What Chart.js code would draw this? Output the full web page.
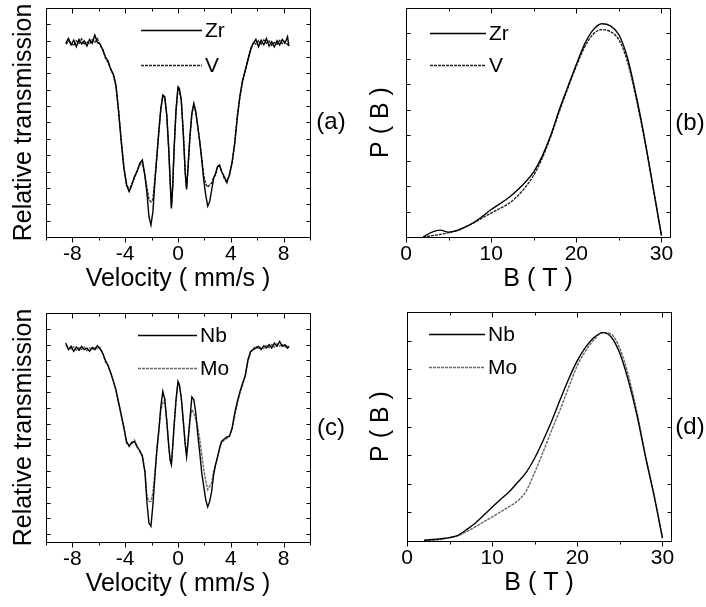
<!DOCTYPE html>
<html><head><meta charset="utf-8">
<script src="https://cdn.jsdelivr.net/npm/chart.js@4.4.1/dist/chart.umd.min.js"></script>
<style>
html,body{margin:0;padding:0;background:#fff;}
#wrap{position:relative;width:706px;height:607px;overflow:hidden;}
canvas{position:absolute;}
</style></head><body>
<div id="wrap">
<canvas id="ca" width="353" height="300" style="left:0;top:0"></canvas>
<canvas id="cb" width="353" height="300" style="left:353px;top:0"></canvas>
<canvas id="cc" width="353" height="307" style="left:0;top:300px"></canvas>
<canvas id="cd" width="353" height="307" style="left:353px;top:300px"></canvas>
</div>
<script>
// ---------- data ----------
const velocity = [-8.5,-8.3,-8.1,-7.9,-7.7,-7.5,-7.3,-7.1,-6.9,-6.7,-6.5,-6.3,-6.1,-5.9,-5.7,-5.5,-5.3,-5.1,-4.9,-4.7,-4.5,-4.3,-4.1,-3.9,-3.7,-3.5,-3.3,-3.1,-2.9,-2.7,-2.5,-2.35,-2.2,-2.05,-1.9,-1.75,-1.6,-1.45,-1.3,-1.15,-1.0,-0.85,-0.7,-0.6,-0.5,-0.4,-0.3,-0.15,0.0,0.1,0.25,0.4,0.55,0.65,0.75,0.9,1.05,1.2,1.35,1.5,1.65,1.8,1.95,2.1,2.25,2.4,2.55,2.7,2.85,3.0,3.15,3.3,3.5,3.7,3.9,4.1,4.3,4.5,4.7,4.9,5.1,5.3,5.5,5.7,5.9,6.1,6.3,6.5,6.7,6.9,7.1,7.3,7.5,7.7,7.9,8.1,8.3,8.4];

const zrSpectrum = [.9784,.9814,.9774,.9804,.9763,.9808,.9780,.9800,.9767,.9808,.9784,.9835,.9788,.9780,.9743,.9702,.9676,.9625,.9596,.9529,.9366,.9183,.9020,.8918,.8877,.8918,.8969,.9000,.9050,.9071,.8969,.8867,.8724,.8673,.8755,.8938,.9091,.9244,.9386,.9468,.9458,.9346,.9132,.8948,.8775,.8908,.9132,.9376,.9519,.9509,.9437,.9234,.8989,.8891,.9010,.9213,.9356,.9417,.9366,.9274,.9183,.9071,.8948,.8857,.8789,.8816,.8887,.8959,.8989,.9030,.9040,.9000,.8969,.8938,.8979,.9060,.9173,.9336,.9468,.9560,.9621,.9682,.9743,.9784,.9808,.9763,.9804,.9774,.9814,.9767,.9794,.9763,.9800,.9774,.9808,.9784,.9824,.9767];

const vSpectrum = [.9778,.9798,.9790,.9770,.9800,.9784,.9810,.9776,.9795,.9780,.9806,.9790,.9812,.9772,.9748,.9695,.9668,.9630,.9590,.9520,.9375,.9190,.9030,.8925,.8885,.8925,.8960,.9005,.9040,.9060,.8975,.8900,.8830,.8815,.8830,.8955,.9100,.9250,.9380,.9460,.9450,.9340,.9140,.8955,.8785,.8915,.9125,.9370,.9510,.9500,.9430,.9240,.8995,.8900,.9015,.9205,.9350,.9410,.9360,.9270,.9180,.9080,.8975,.8925,.8905,.8920,.8930,.8965,.8980,.9035,.9030,.9005,.8960,.8930,.8985,.9050,.9180,.9345,.9460,.9555,.9615,.9690,.9750,.9790,.9780,.9800,.9775,.9805,.9785,.9798,.9772,.9790,.9778,.9802,.9782,.9796,.9776,.9790];

const nbSpectrum = [.9810,.9768,.9789,.9757,.9785,.9764,.9789,.9768,.9778,.9757,.9782,.9768,.9793,.9772,.9743,.9700,.9666,.9624,.9567,.9515,.9430,.9356,.9272,.9187,.9156,.9181,.9187,.9152,.9130,.9092,.8987,.8797,.8670,.8649,.8786,.8966,.9135,.9261,.9409,.9504,.9451,.9314,.9156,.9071,.9040,.9156,.9282,.9451,.9567,.9546,.9462,.9314,.9166,.9092,.9177,.9325,.9468,.9451,.9367,.9230,.9114,.8987,.8902,.8818,.8772,.8807,.8871,.8976,.9040,.9092,.9145,.9187,.9202,.9215,.9219,.9272,.9367,.9441,.9504,.9557,.9603,.9704,.9757,.9768,.9778,.9789,.9768,.9793,.9778,.9799,.9778,.9810,.9789,.9820,.9789,.9799,.9778,.9789];

const moSpectrum = [.9795,.9780,.9772,.9786,.9764,.9780,.9770,.9784,.9762,.9779,.9768,.9786,.9774,.9781,.9750,.9690,.9672,.9615,.9575,.9505,.9440,.9345,.9280,.9175,.9165,.9170,.9195,.9160,.9120,.9100,.9000,.8839,.8807,.8807,.8860,.8987,.9130,.9250,.9388,.9430,.9451,.9320,.9160,.9075,.9045,.9150,.9280,.9445,.9560,.9550,.9465,.9320,.9170,.9098,.9180,.9310,.9388,.9367,.9325,.9272,.9198,.9103,.9008,.8934,.8881,.8902,.8924,.8997,.9045,.9085,.9140,.9180,.9195,.9205,.9225,.9265,.9350,.9430,.9495,.9545,.9610,.9695,.9750,.9775,.9790,.9772,.9785,.9776,.9795,.9780,.9800,.9785,.9805,.9790,.9800,.9782,.9796,.9780];

const fieldB = [2,3,4,5,6,7,8,9,10,11,12,13,14,15,16,17,18,19,20,21,22,23,24,25,26,27,28,29,30];
const zrPB = [0.0000,0.0018,0.0027,0.0019,0.0026,0.0040,0.0058,0.0082,0.0108,0.0130,0.0153,0.0182,0.0215,0.0256,0.0318,0.0400,0.0500,0.0590,0.0678,0.0760,0.0815,0.0838,0.0830,0.0795,0.0705,0.0560,0.0390,0.0198,0.0005];
const vPB  = [0.0000,0.0005,0.0010,0.0017,0.0025,0.0040,0.0056,0.0076,0.0094,0.0112,0.0130,0.0158,0.0195,0.0243,0.0310,0.0395,0.0493,0.0585,0.0672,0.0748,0.0798,0.0815,0.0807,0.0775,0.0690,0.0550,0.0385,0.0198,0.0005];
const nbPB = [0.0003,0.0005,0.0008,0.0012,0.0020,0.0040,0.0062,0.0090,0.0118,0.0146,0.0172,0.0205,0.0240,0.0290,0.0352,0.0420,0.0495,0.0567,0.0630,0.0678,0.0712,0.0728,0.0712,0.0655,0.0560,0.0440,0.0295,0.0160,0.0010];
const moPB = [0.0001,0.0003,0.0006,0.0012,0.0019,0.0033,0.0049,0.0067,0.0084,0.0102,0.0120,0.0140,0.0175,0.0240,0.0312,0.0388,0.0460,0.0538,0.0613,0.0665,0.0705,0.0728,0.0722,0.0672,0.0578,0.0450,0.0300,0.0162,0.0010];

const velocityTickLabels = ['-8','-4','0','4','8'];
const fieldTickLabels = ['0','10','20','30'];

// ---------- helpers ----------
const FONT = "'Liberation Sans', Arial, Helvetica, sans-serif";
const pts = (xs, ys) => xs.map((x, i) => ({x, y: ys[i]}));

const decoPlugin = {
  id: 'deco',
  afterDraw(chart, args, o) {
    const ctx = chart.ctx, ca = chart.chartArea;
    const xs = chart.scales.x, ys = chart.scales.y;
    ctx.save();
    ctx.strokeStyle = '#000'; ctx.lineWidth = 1;
    const L = Math.round(ca.left) + 0.5, R = Math.round(ca.right) + 0.5;
    const T = Math.round(ca.top) + 0.5, B = Math.round(ca.bottom) + 0.5;
    ctx.beginPath();
    ctx.rect(L, T, R - L, B - T);
    xs.ticks.forEach(t => {
      const p = Math.round(xs.getPixelForValue(t.value)) + 0.5;
      const major = o.xLabels.includes(String(t.value));
      const len = major ? 5 : 3;
      ctx.moveTo(p, B); ctx.lineTo(p, B + len);
      ctx.moveTo(p, T); ctx.lineTo(p, T + len);
    });
    ys.ticks.forEach(t => {
      const p = Math.round(ys.getPixelForValue(t.value)) + 0.5;
      ctx.moveTo(L, p); ctx.lineTo(L + 4, p);
      ctx.moveTo(R, p); ctx.lineTo(R - 4, p);
    });
    ctx.stroke();
    // legend
    chart.data.datasets.forEach((ds, i) => {
      const y = o.legendY[i] + 0.5;
      ctx.save();
      ctx.strokeStyle = ds.borderColor; ctx.lineWidth = 1.3;
      ctx.setLineDash(ds.borderDash || []);
      ctx.beginPath(); ctx.moveTo(o.legendX, y); ctx.lineTo(o.legendX + o.lineLen, y); ctx.stroke();
      ctx.restore();
      ctx.fillStyle = '#000'; ctx.font = '21px ' + FONT;
      ctx.textBaseline = 'middle'; ctx.textAlign = 'left';
      ctx.fillText(ds.label, o.legendX + o.lineLen + 3, y + 1);
    });
    // panel label
    ctx.fillStyle = '#000'; ctx.font = '24px ' + FONT;
    ctx.textAlign = 'center'; ctx.textBaseline = 'middle';
    ctx.fillText(o.panel, o.panelX, o.panelY);
    ctx.restore();
  }
};

function makeChart(id, c) {
  return new Chart(document.getElementById(id), {
    type: 'line',
    data: { datasets: c.datasets },
    options: {
      responsive: false, animation: false, devicePixelRatio: 1,
      layout: { padding: c.padding },
      events: [],
      plugins: { legend: { display: false }, tooltip: { enabled: false }, deco: c.deco },
      elements: { point: { radius: 0 }, line: { tension: c.tension, cubicInterpolationMode: c.cubic || 'default' } },
      scales: {
        x: {
          type: 'linear', min: c.xMin, max: c.xMax,
          afterFit: s => { s.height = c.xH; },
          afterBuildTicks: s => { s.ticks = s.ticks.filter(t => Math.abs(t.value / c.xStep - Math.round(t.value / c.xStep)) < 1e-6); },
          ticks: {
            stepSize: c.xStep, autoSkip: false, maxRotation: 0, includeBounds: false,
            padding: c.xTickPad, color: '#000', font: { family: FONT, size: 21 },
            callback: v => c.xLabels.includes(String(v)) ? String(v) : ''
          },
          grid: { display: false, drawTicks: false },
          border: { display: false },
          title: { display: true, text: c.xTitle, color: '#000', font: { family: FONT, size: 25 }, padding: { top: 0, bottom: c.xTitlePad } }
        },
        y: {
          type: 'linear', min: c.yMin, max: c.yMax,
          afterFit: s => { s.width = c.yW; },
          ticks: { display: false, stepSize: c.yStep, includeBounds: false },
          grid: { display: false, drawTicks: false },
          border: { display: false },
          title: { display: true, text: c.yTitle, color: '#000', font: { family: FONT, size: 25 }, padding: { top: c.yTitlePad, bottom: 0 } }
        }
      }
    },
    plugins: [decoPlugin]
  });
}

const solid = (label, xs, ys) => ({ label, data: pts(xs, ys), borderColor: '#000', borderWidth: 1.4, fill: false });
const dashed = (label, xs, ys, col) => ({ label, data: pts(xs, ys), borderColor: col, borderWidth: 1.4, borderDash: [3, 1], fill: false });

// (a)
makeChart('ca', {
  datasets: [solid('Zr', velocity, zrSpectrum), dashed('V', velocity, vSpectrum, '#222')],
  padding: { left: 0, top: 8, right: 43, bottom: 0 },
  xMin: -10, xMax: 10, xStep: 2, xLabels: velocityTickLabels, xH: 63, xTickPad: 5,
  xTitle: 'Velocity ( mm/s )', xTitlePad: 6,
  yMin: 0.86, yMax: 1.0, yStep: 0.01, yW: 46, yTitle: 'Relative transmission', yTitlePad: 9,
  tension: 0,
  deco: { xLabels: velocityTickLabels, legendX: 141, lineLen: 61, legendY: [30, 65], panel: '(a)', panelX: 331, panelY: 122 }
});
// (b)
makeChart('cb', {
  datasets: [solid('Zr', fieldB, zrPB), dashed('V', fieldB, vPB, '#222')],
  padding: { left: 0, top: 8, right: 36, bottom: 0 },
  xMin: 0, xMax: 31, xStep: 5, xLabels: fieldTickLabels, xH: 63, xTickPad: 5,
  xTitle: 'B ( T )', xTitlePad: 6,
  yMin: 0, yMax: 0.09, yStep: 0.01, yW: 53, yTitle: 'P ( B )', yTitlePad: 13,
  tension: 0.4, cubic: 'monotone',
  deco: { xLabels: fieldTickLabels, legendX: 77, lineLen: 56, legendY: [33, 65], panel: '(b)', panelX: 337, panelY: 123 }
});
// (c)
makeChart('cc', {
  datasets: [solid('Nb', velocity, nbSpectrum), dashed('Mo', velocity, moSpectrum, '#666')],
  padding: { left: 0, top: 13, right: 43, bottom: 0 },
  xMin: -10, xMax: 10, xStep: 2, xLabels: velocityTickLabels, xH: 65, xTickPad: 5,
  xTitle: 'Velocity ( mm/s )', xTitlePad: 8,
  yMin: 0.855, yMax: 1.0, yStep: 0.01, yW: 46, yTitle: 'Relative transmission', yTitlePad: 9,
  tension: 0,
  deco: { xLabels: velocityTickLabels, legendX: 138, lineLen: 59, legendY: [35, 68], panel: '(c)', panelX: 331, panelY: 128 }
});
// (d)
makeChart('cd', {
  datasets: [solid('Nb', fieldB, nbPB), dashed('Mo', fieldB, moPB, '#666')],
  padding: { left: 0, top: 12, right: 35, bottom: 0 },
  xMin: 0, xMax: 31, xStep: 5, xLabels: fieldTickLabels, xH: 66, xTickPad: 5,
  xTitle: 'B ( T )', xTitlePad: 9,
  yMin: 0, yMax: 0.08, yStep: 0.01, yW: 54, yTitle: 'P ( B )', yTitlePad: 13,
  tension: 0.4, cubic: 'monotone',
  deco: { xLabels: fieldTickLabels, legendX: 76, lineLen: 56, legendY: [34, 67], panel: '(d)', panelX: 337, panelY: 127 }
});
</script>
</body></html>
